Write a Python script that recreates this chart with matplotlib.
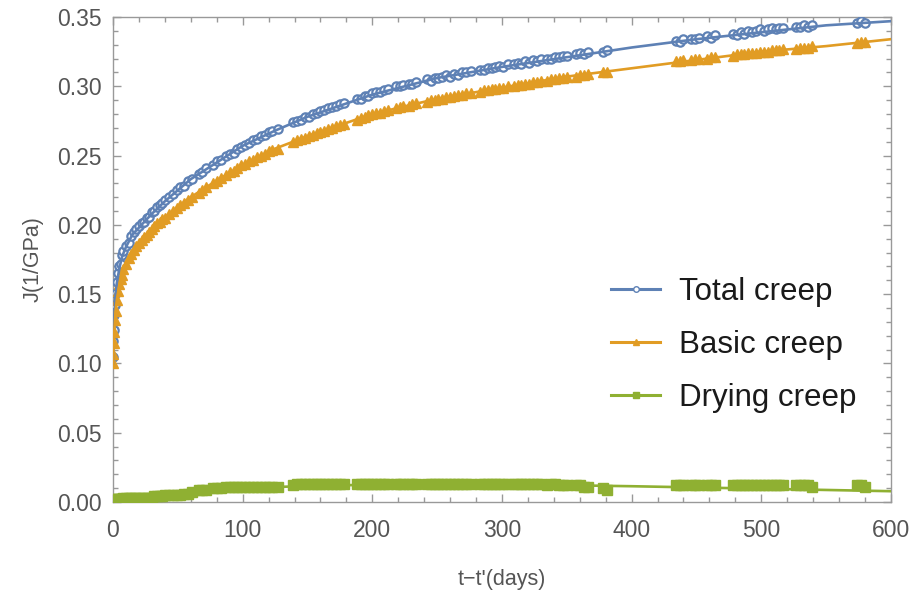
import matplotlib.pyplot as plt
from matplotlib.lines import Line2D
from matplotlib.ticker import MultipleLocator, FormatStrFormatter

# sampling days (t - t')
days = [0.1, 0.3, 0.6, 1, 1.5, 2, 3, 4, 5, 6, 7, 8, 10, 12, 14, 16, 18, 20, 22, 24,
        26, 28, 30, 32, 34, 36, 38, 40, 43, 46, 49, 52, 55, 58, 61,
        66, 69, 72, 77, 80, 83, 87, 90, 93, 96, 99, 102, 105, 108, 111, 114, 117, 120, 123, 127,
        139, 142, 145, 148, 151, 154, 157, 160, 163, 166, 169, 172, 175, 178,
        188, 191, 194, 197, 200, 203, 206, 209, 212,
        218, 221, 224, 228, 231, 234,
        242, 245, 248, 251, 254, 257, 260, 263, 266, 269, 272, 276,
        283, 286, 289, 292, 295, 298, 301, 305,
        309, 312, 315, 318, 321, 324, 327, 330,
        335, 338, 341, 344, 347, 350,
        357, 360, 363, 366,
        378, 381,
        434, 437, 440, 446, 449, 452, 458, 461, 464,
        478, 481, 484, 487, 490, 493, 496, 499, 502, 505, 508, 511, 514, 517,
        527, 530, 533, 536, 539,
        574, 577, 580]

total = [0.105, 0.116, 0.124, 0.135, 0.142, 0.151, 0.159, 0.165, 0.170, 0.172, 0.178, 0.181, 0.185, 0.187, 0.192, 0.195, 0.197, 0.199,
         0.201, 0.202, 0.205, 0.206, 0.209, 0.210, 0.213, 0.214, 0.216, 0.218, 0.220, 0.222, 0.225, 0.227, 0.228, 0.232, 0.233,
         0.237, 0.238, 0.241, 0.243, 0.246, 0.247, 0.250, 0.251, 0.252, 0.255, 0.256, 0.258, 0.259, 0.261, 0.262, 0.264, 0.265, 0.267, 0.268, 0.269,
         0.274, 0.275, 0.276, 0.278, 0.278, 0.280, 0.281, 0.282, 0.283, 0.284, 0.285, 0.286, 0.287, 0.288,
         0.291, 0.291, 0.293, 0.293, 0.295, 0.296, 0.296, 0.297, 0.298,
         0.300, 0.300, 0.301, 0.302, 0.302, 0.303,
         0.305, 0.304, 0.306, 0.306, 0.307, 0.308, 0.307, 0.309, 0.308, 0.310, 0.310, 0.311,
         0.312, 0.312, 0.313, 0.313, 0.314, 0.315, 0.314, 0.316,
         0.316, 0.317, 0.316, 0.318, 0.317, 0.319, 0.318, 0.320,
         0.320, 0.320, 0.321, 0.321, 0.322, 0.322,
         0.323, 0.324, 0.323, 0.325,
         0.325, 0.326,
         0.333, 0.332, 0.334, 0.334, 0.334, 0.335, 0.336, 0.335, 0.337,
         0.338, 0.337, 0.339, 0.338, 0.340, 0.339, 0.340, 0.341, 0.340, 0.341, 0.342, 0.341, 0.342, 0.342,
         0.343, 0.343, 0.344, 0.343, 0.344,
         0.346, 0.347, 0.346]

basic = [0.100, 0.107, 0.115, 0.123, 0.131, 0.138, 0.146, 0.152, 0.157, 0.161, 0.164, 0.168, 0.172, 0.176, 0.179, 0.182, 0.185, 0.187,
         0.189, 0.191, 0.193, 0.195, 0.197, 0.199, 0.201, 0.202, 0.204, 0.205, 0.208, 0.210, 0.212, 0.214, 0.216, 0.218, 0.220,
         0.223, 0.225, 0.227, 0.230, 0.232, 0.234, 0.236, 0.238, 0.239, 0.241, 0.243, 0.244, 0.246, 0.247, 0.249, 0.250, 0.251, 0.253, 0.254, 0.255,
         0.260, 0.261, 0.262, 0.263, 0.264, 0.265, 0.266, 0.267, 0.268, 0.269, 0.270, 0.271, 0.272, 0.273,
         0.276, 0.277, 0.278, 0.279, 0.280, 0.281, 0.281, 0.282, 0.283,
         0.284, 0.285, 0.286, 0.286, 0.287, 0.288,
         0.289, 0.290, 0.290, 0.291, 0.291, 0.292, 0.292, 0.293, 0.294, 0.294, 0.295, 0.295,
         0.296, 0.297, 0.297, 0.298, 0.298, 0.299, 0.299, 0.300,
         0.300, 0.301, 0.301, 0.302, 0.302, 0.303, 0.303, 0.304,
         0.304, 0.305, 0.305, 0.306, 0.306, 0.307,
         0.307, 0.308, 0.308, 0.309,
         0.310, 0.310,
         0.318, 0.318, 0.319, 0.319, 0.320, 0.320, 0.320, 0.321, 0.321,
         0.322, 0.323, 0.323, 0.323, 0.324, 0.324, 0.324, 0.325, 0.325, 0.325, 0.326, 0.326, 0.326, 0.327,
         0.327, 0.328, 0.328, 0.328, 0.329,
         0.331, 0.332, 0.332]

drying = [0.000, 0.001, 0.001, 0.001, 0.001, 0.002, 0.002, 0.002, 0.002, 0.002, 0.002, 0.003, 0.003, 0.003, 0.003, 0.003, 0.003, 0.003,
          0.003, 0.003, 0.003, 0.003, 0.003, 0.004, 0.004, 0.004, 0.004, 0.005, 0.005, 0.005, 0.005, 0.005, 0.006, 0.006, 0.007,
          0.009, 0.009, 0.009, 0.010, 0.010, 0.010, 0.011, 0.011, 0.011, 0.011, 0.011, 0.011, 0.011, 0.011, 0.011, 0.011, 0.011, 0.011, 0.011, 0.011,
          0.012, 0.013, 0.013, 0.013, 0.013, 0.013, 0.013, 0.013, 0.013, 0.013, 0.013, 0.013, 0.013, 0.013,
          0.013, 0.013, 0.013, 0.013, 0.013, 0.013, 0.013, 0.013, 0.013,
          0.013, 0.013, 0.013, 0.013, 0.013, 0.013,
          0.013, 0.013, 0.013, 0.013, 0.013, 0.013, 0.013, 0.013, 0.013, 0.013, 0.013, 0.013,
          0.013, 0.013, 0.013, 0.013, 0.013, 0.013, 0.013, 0.013,
          0.013, 0.013, 0.013, 0.013, 0.013, 0.013, 0.013, 0.013,
          0.012, 0.013, 0.013, 0.012, 0.012, 0.012,
          0.012, 0.012, 0.011, 0.011,
          0.010, 0.009,
          0.012, 0.012, 0.012, 0.012, 0.012, 0.012, 0.012, 0.012, 0.012,
          0.012, 0.012, 0.012, 0.012, 0.012, 0.012, 0.012, 0.012, 0.012, 0.012, 0.012, 0.012, 0.012, 0.012,
          0.012, 0.012, 0.012, 0.012, 0.011,
          0.012, 0.012, 0.011]

# fitted curves
fit_t = [0, 0.25, 0.5, 1, 2, 3, 5, 7, 10, 15, 20, 30, 40, 50, 60, 80, 100, 125, 150, 175,
         200, 250, 300, 350, 400, 450, 500, 550, 600]
total_fit = [0.100, 0.112, 0.121, 0.134, 0.150, 0.158, 0.169, 0.177, 0.184, 0.193, 0.198, 0.208, 0.217, 0.225, 0.233,
             0.245, 0.257, 0.268, 0.278, 0.286, 0.294, 0.306, 0.314, 0.321, 0.328, 0.334, 0.339, 0.344, 0.347]
basic_fit = [0.097, 0.105, 0.112, 0.123, 0.138, 0.146, 0.157, 0.164, 0.172, 0.181, 0.187, 0.197, 0.205, 0.213, 0.220,
             0.232, 0.243, 0.255, 0.264, 0.272, 0.280, 0.291, 0.299, 0.307, 0.313, 0.319, 0.325, 0.329, 0.334]
drying_fit = [0, 0.0003, 0.0006, 0.001, 0.0015, 0.002, 0.0025, 0.003, 0.0033, 0.0038, 0.0042, 0.005, 0.0058, 0.0065,
              0.0072, 0.0085, 0.0097, 0.0108, 0.0116, 0.0121, 0.0124, 0.0126, 0.0125, 0.0121, 0.0114, 0.0105,
              0.0096, 0.0087, 0.0078]

c_total = '#5e81b5'
c_basic = '#e19c24'
c_dry = '#8fb032'

plt.rcParams['font.family'] = ['Liberation Sans', 'DejaVu Sans']

fig = plt.figure(figsize=(9.17, 5.97), dpi=100)
ax = fig.add_axes([0.1232, 0.1591, 0.8484, 0.8124])

ax.plot(days, total, 'o', ms=6, mfc='white', mec=c_total, mew=1.6, zorder=3)
ax.plot(days, basic, '^', ms=7, color=c_basic, mec=c_basic, zorder=4)
ax.plot(days, drying, 's', ms=7, color=c_dry, mec=c_dry, zorder=5)
ax.plot(fit_t, total_fit, color=c_total, lw=1.9, zorder=6)
ax.plot(fit_t, basic_fit, color=c_basic, lw=1.9, zorder=6)
ax.plot(fit_t, drying_fit, color=c_dry, lw=1.9, zorder=6)

ax.set_xlim(0, 600)
ax.set_ylim(0, 0.35)
ax.xaxis.set_major_locator(MultipleLocator(100))
ax.xaxis.set_minor_locator(MultipleLocator(20))
ax.yaxis.set_major_locator(MultipleLocator(0.05))
ax.yaxis.set_minor_locator(MultipleLocator(0.01))
ax.yaxis.set_major_formatter(FormatStrFormatter('%.2f'))

gray = '#999999'
for s in ax.spines.values():
    s.set_color(gray)
    s.set_linewidth(1.0)
ax.tick_params(which='both', direction='in', top=True, right=True, color=gray, width=1.0)
ax.tick_params(which='major', length=6, labelsize=16.5, labelcolor='#555555')
ax.tick_params(axis='x', which='major', pad=12)
ax.tick_params(axis='y', which='major', pad=8)
ax.tick_params(which='minor', length=3.5)

ax.set_xlabel("t\u2212t'(days)", fontsize=15.5, color='#555555', labelpad=20)
ax.set_ylabel('J(1/GPa)', fontsize=15.5, color='#555555', labelpad=10)

handles = [
    Line2D([], [], color=c_total, lw=2.2, marker='o', ms=4, mfc='white', mec=c_total),
    Line2D([], [], color=c_basic, lw=2.2, marker='^', ms=4),
    Line2D([], [], color=c_dry, lw=2.2, marker='s', ms=4),
]
ax.legend(handles, ['Total creep', 'Basic creep', 'Drying creep'], loc='center left',
          bbox_to_anchor=(0.604, 0.324), frameon=False, fontsize=22.5, handlelength=1.57,
          labelspacing=0.74, handletextpad=0.62, labelcolor='#1a1a1a')

fig.savefig('out.png', dpi=100)
